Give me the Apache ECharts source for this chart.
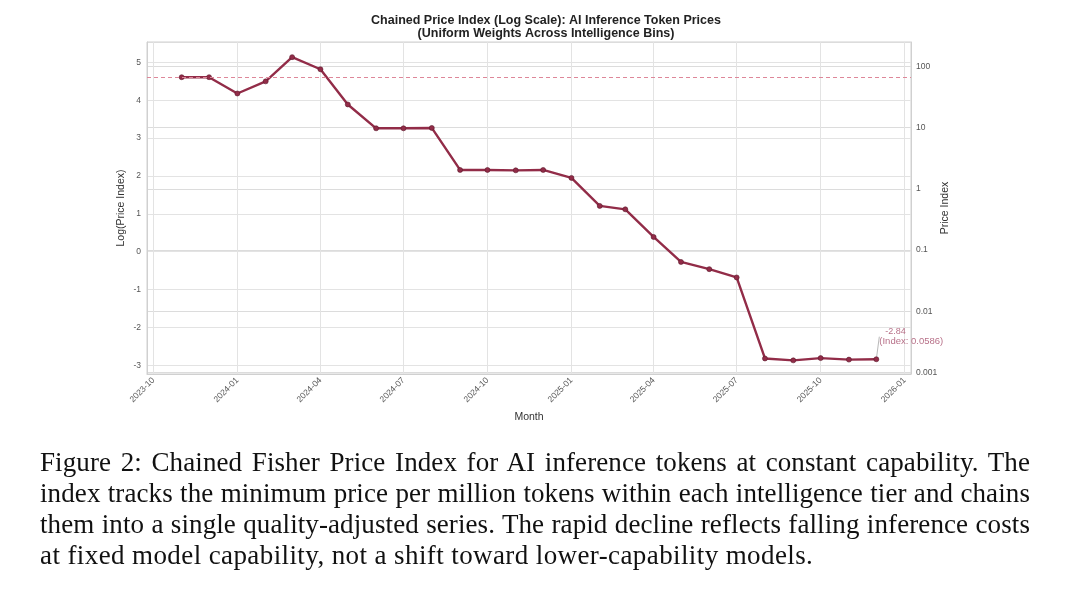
<!DOCTYPE html>
<html>
<head>
<meta charset="utf-8">
<script src="https://cdn.jsdelivr.net/npm/echarts@6/dist/echarts.min.js"></script>
<style>
  body { margin: 0; background: #fff; }
  #chart { position: absolute; left: 0; top: 0; width: 1080px; height: 604px; }
  .cap { position: absolute; left: 40px; width: 990px; font-family: "Liberation Serif", serif; font-size: 27px; letter-spacing: 0.1px; line-height: 31px; color: #111; text-align: justify; text-align-last: justify; white-space: nowrap; }
  .cap.last { text-align-last: left; letter-spacing: 0.4px; }
</style>
</head>
<body>
<div id="chart"></div>
<div class="cap" style="top:447px">Figure 2: Chained Fisher Price Index for AI inference tokens at constant capability. The</div>
<div class="cap" style="top:478px">index tracks the minimum price per million tokens within each intelligence tier and chains</div>
<div class="cap" style="top:509px">them into a single quality-adjusted series. The rapid decline reflects falling inference costs</div>
<div class="cap last" style="top:540px">at fixed model capability, not a shift toward lower-capability models.</div>
<script>
// monthly index points (natural log of the chained index, base 100)
const months = [
  "2023-11-01", "2023-12-01", "2024-01-01", "2024-02-01", "2024-03-01", "2024-04-01",
  "2024-05-01", "2024-06-01", "2024-07-01", "2024-08-01", "2024-09-01", "2024-10-01",
  "2024-11-01", "2024-12-01", "2025-01-01", "2025-02-01", "2025-03-01", "2025-04-01",
  "2025-05-01", "2025-06-01", "2025-07-01", "2025-08-01", "2025-09-01", "2025-10-01",
  "2025-11-01", "2025-12-01"
];
const logIndex = [
  4.61, 4.61, 4.18, 4.50, 5.14, 4.82,
  3.89, 3.26, 3.26, 3.27, 2.16, 2.16,
  2.15, 2.16, 1.95, 1.21, 1.12, 0.39,
  -0.27, -0.46, -0.68, -2.82, -2.87, -2.81,
  -2.85, -2.84
];
const baseLine = 4.605; // ln(100)
const leftTicks = [-3, -2, -1, 0, 1, 2, 3, 4, 5];
const xTicks = ["2023-10-01", "2024-01-01", "2024-04-01", "2024-07-01", "2024-10-01",
  "2025-01-01", "2025-04-01", "2025-07-01", "2025-10-01", "2026-01-01"];
const lastLabel = "{a|-2.84}\n{b|(Index: 0.0586)}";

const lineColor = "#922c48";
const gridColor = "#e3e3e3";
const labelColor = "#555";
const font = "Liberation Sans";

const ts = d => new Date(d + "T00:00:00").getTime();

let chart = echarts.init(document.getElementById("chart"), null, { renderer: "canvas" });

let xTickValues = xTicks.map(ts);
let seriesData = months.map((m, i) => {
  let item = { value: [ts(m), logIndex[i]] };
  if (i === months.length - 1) {
    item.label = {
      show: true,
      formatter: lastLabel,
      position: "top",
      align: "left",
      fontFamily: font,
      rich: {
        a: { color: "#b77088", fontSize: 9, lineHeight: 10, fontFamily: font, padding: [0, 0, 0, 6] },
        b: { color: "#b77088", fontSize: 9.5, lineHeight: 10, fontFamily: font }
      }
    };
  }
  return item;
});

let option = {
  animation: false,
  backgroundColor: "#fff",
  title: {
    text: "Chained Price Index (Log Scale): AI Inference Token Prices\n(Uniform Weights Across Intelligence Bins)",
    left: 541,
    top: 9,
    textAlign: "center",
    textStyle: { fontFamily: font, fontWeight: "bold", fontSize: 12.5, lineHeight: 13, color: "#222" }
  },
  grid: {
    left: 147, right: 169, top: 42, bottom: 230,
    show: true, borderColor: "#d0d0d0", borderWidth: 1, backgroundColor: "transparent"
  },
  xAxis: {
    type: "value",
    min: ts("2023-09-24"),
    max: ts("2026-01-08"),
    name: "Month",
    nameLocation: "middle",
    nameGap: 37,
    nameTextStyle: { fontFamily: font, fontSize: 10.5, color: "#333" },
    axisLine: { show: true, onZero: false, lineStyle: { color: "#d0d0d0" } },
    axisTick: { show: false, customValues: xTickValues },
    axisLabel: {
      customValues: xTickValues,
      rotate: 45,
      fontSize: 8.5,
      fontFamily: font,
      color: labelColor,
      margin: 5,
      formatter: v => echarts.time.format(v, "{yyyy}-{MM}", false)
    },
    splitLine: { show: true, lineStyle: { color: gridColor, width: 1 } }
  },
  yAxis: [
    {
      type: "value",
      min: -3.23,
      max: 5.54,
      name: "Log(Price Index)",
      nameLocation: "middle",
      nameGap: 20,
      nameMoveOverlap: false,
      nameTextStyle: { fontFamily: font, fontSize: 10.5, color: "#333" },
      axisLine: { show: true, lineStyle: { color: "#d0d0d0" } },
      axisTick: { show: false, customValues: leftTicks },
      axisLabel: { customValues: leftTicks, fontSize: 8.5, fontFamily: font, color: labelColor, margin: 6 },
      splitLine: { show: true, lineStyle: { color: gridColor, width: 1 } }
    },
    {
      type: "log",
      logBase: 10,
      min: 0.00095,
      max: 250,
      position: "right",
      name: "Price Index",
      nameLocation: "middle",
      nameGap: 29,
      nameMoveOverlap: false,
      nameRotate: 90,
      nameTextStyle: { fontFamily: font, fontSize: 10.5, color: "#333" },
      axisLine: { show: true, lineStyle: { color: "#d0d0d0" } },
      axisTick: { show: false },
      axisLabel: {
        fontSize: 8.5, fontFamily: font, color: labelColor, margin: 5,
        formatter: v => {
          let e = Math.round(Math.log10(v));
          if (Math.abs(Math.log10(v) - e) > 0.01) return "";
          return e >= 0 ? String(Math.pow(10, e)) : Math.pow(10, e).toFixed(-e);
        }
      },
      splitLine: { show: true, lineStyle: { color: "#dcdcdc", width: 1 } }
    }
  ],
  series: [
    {
      type: "line",
      yAxisIndex: 0,
      data: seriesData,
      symbol: "circle",
      symbolSize: 5,
      lineStyle: { color: lineColor, width: 2.4 },
      itemStyle: { color: lineColor, borderColor: "#5a1a2c", borderWidth: 0.6 },
      labelLayout: { dx: 3, dy: -5 },
      labelLine: { show: true, lineStyle: { color: "#888", width: 0.6 } },
      markLine: {
        silent: true,
        symbol: "none",
        label: { show: false },
        lineStyle: { color: "#de8799", type: [4, 3], width: 1 },
        data: [{ yAxis: baseLine }]
      }
    }
  ]
};

chart.setOption(option);
window.addEventListener("resize", () => chart.resize());
</script>
</body>
</html>
